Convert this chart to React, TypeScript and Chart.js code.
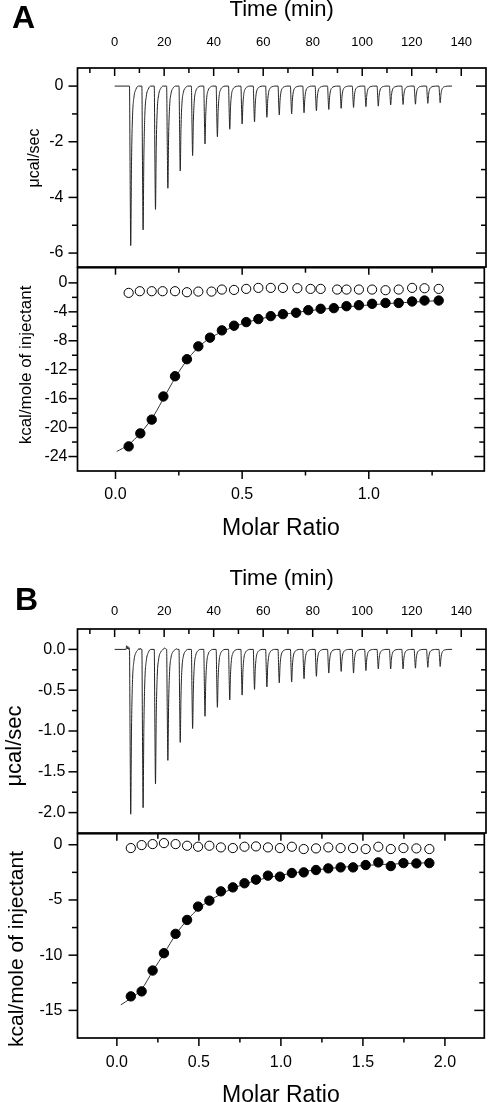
import React, { useEffect, useRef } from 'react';
import { Chart, registerables } from 'chart.js';

Chart.register(...registerables);

const FONT = '"Liberation Sans", Arial, Helvetica, sans-serif';

// ---------------- raw thermogram data (shared injection schedule, min) ----------------
const INJECTION_TIMES = [6, 11, 16, 21, 26, 31, 36, 41, 46, 51, 56, 61, 66, 71, 76, 81, 86, 91, 96, 101, 106, 111, 116, 121, 126, 131];
const BASELINE_START = 0;
const BASELINE_END = 136.3;
// one injection peak: time offset (min) and fraction of the peak depth
const PEAK_OFFSETS = [0, 0.25, 0.5, 0.8, 1.2, 1.8, 2.6, 3.6];
const PEAK_FRACTIONS = [0, 0.55, 1, 0.5, 0.2, 0.07, 0.02, 0];

// ---------------- Panel A ----------------
const A_PEAK_DEPTHS = [-5.73, -5.17, -4.43, -3.67, -3.05, -2.5, -2.08, -1.82, -1.55, -1.36, -1.29, -1.12, -1.04, -1.0, -0.96, -0.89, -0.84, -0.8, -0.77, -0.74, -0.72, -0.68, -0.66, -0.65, -0.62, -0.6];
const A_MOLAR = [0.052, 0.098, 0.143, 0.189, 0.235, 0.282, 0.327, 0.373, 0.42, 0.468, 0.516, 0.564, 0.613, 0.661, 0.713, 0.761, 0.81, 0.862, 0.912, 0.961, 1.013, 1.066, 1.118, 1.171, 1.22, 1.276];
const A_HEAT = [-22.6, -20.8, -18.9, -15.7, -12.9, -10.55, -8.77, -7.57, -6.56, -5.92, -5.42, -5.0, -4.59, -4.32, -4.13, -3.77, -3.58, -3.49, -3.22, -3.08, -2.89, -2.78, -2.78, -2.57, -2.44, -2.44];
const A_BLANK_MOLAR = [0.052, 0.096, 0.143, 0.186, 0.235, 0.282, 0.327, 0.379, 0.42, 0.468, 0.516, 0.564, 0.613, 0.661, 0.718, 0.77, 0.81, 0.875, 0.912, 0.961, 1.013, 1.066, 1.118, 1.171, 1.22, 1.276];
const A_BLANK_HEAT = [-1.38, -1.15, -1.15, -1.15, -1.15, -1.29, -1.2, -1.2, -0.92, -0.97, -0.83, -0.69, -0.69, -0.69, -0.74, -0.83, -0.83, -0.92, -0.92, -0.92, -0.92, -1.01, -0.92, -0.69, -0.74, -0.83];
const A_FIT_MOLAR = [0.005, 0.05, 0.1, 0.15, 0.2, 0.25, 0.3, 0.35, 0.4, 0.45, 0.5, 0.55, 0.6, 0.7, 0.8, 0.9, 1.0, 1.1, 1.2, 1.276];
const A_FIT_HEAT = [-23.3, -22.4, -20.7, -18.4, -15.3, -12.3, -9.9, -8.2, -7.1, -6.3, -5.65, -5.15, -4.75, -4.15, -3.7, -3.35, -3.05, -2.8, -2.6, -2.45];

// ---------------- Panel B ----------------
const B_PEAK_DEPTHS = [-2.02, -1.94, -1.65, -1.36, -1.14, -0.97, -0.82, -0.71, -0.62, -0.56, -0.49, -0.46, -0.41, -0.4, -0.36, -0.33, -0.29, -0.27, -0.29, -0.26, -0.24, -0.24, -0.24, -0.23, -0.22, -0.21];
const B_NOISE_TIME = [4.6, 4.85, 5.1, 5.35, 5.6, 5.85, 9.8, 10.1, 10.4, 10.7, 19.8, 20.3, 20.8, 24.8, 25.4];
const B_NOISE_VALUE = [0, 0.045, 0.005, 0.035, 0.0, 0.02, 0.01, -0.005, 0.015, 0, 0.01, 0.015, 0.005, 0.008, 0.0];
const B_MOLAR = [0.085, 0.151, 0.218, 0.287, 0.358, 0.428, 0.495, 0.564, 0.634, 0.707, 0.778, 0.848, 0.921, 0.994, 1.067, 1.139, 1.214, 1.289, 1.364, 1.44, 1.517, 1.594, 1.67, 1.747, 1.826, 1.905];
const B_HEAT = [-13.73, -13.28, -11.39, -9.82, -8.07, -6.81, -5.6, -5.06, -4.22, -3.86, -3.49, -3.16, -2.8, -2.89, -2.56, -2.5, -2.29, -2.14, -2.05, -2.05, -1.84, -1.6, -1.93, -1.66, -1.69, -1.66];
const B_BLANK_HEAT = [-0.3, -0.03, 0.06, 0.15, 0.06, -0.09, -0.18, -0.09, -0.24, -0.3, -0.18, -0.15, -0.24, -0.3, -0.18, -0.39, -0.33, -0.24, -0.3, -0.3, -0.39, -0.18, -0.39, -0.3, -0.33, -0.39];
const B_FIT_MOLAR = [0.024, 0.085, 0.15, 0.22, 0.29, 0.36, 0.43, 0.5, 0.6, 0.7, 0.8, 0.9, 1.0, 1.2, 1.4, 1.6, 1.8, 1.905];
const B_FIT_HEAT = [-14.5, -13.9, -13.1, -11.4, -9.8, -8.1, -6.8, -5.75, -4.75, -4.0, -3.45, -3.05, -2.75, -2.3, -2.0, -1.8, -1.68, -1.63];

// ---------------- tick values ----------------
const TIME_TICKS = [0, 20, 40, 60, 80, 100, 120, 140];
const TIME_MINOR = [-10, 10, 30, 50, 70, 90, 110, 130];
const A_TOP_Y_TICKS = [-6, -4, -2, 0];
const A_TOP_Y_MINOR = [-5, -3, -1];
const A_BOT_Y_TICKS = [-24, -20, -16, -12, -8, -4, 0];
const A_BOT_Y_MINOR = [-22, -18, -14, -10, -6, -2];
const A_X_TICKS = [0, 0.5, 1.0];
const A_X_MINOR = [0.25, 0.75, 1.25];
const B_TOP_Y_TICKS = [-2.0, -1.5, -1.0, -0.5, 0];
const B_TOP_Y_MINOR = [-1.75, -1.25, -0.75, -0.25];
const B_BOT_Y_TICKS = [-15, -10, -5, 0];
const B_BOT_Y_MINOR = [-12.5, -7.5, -2.5];
const B_X_TICKS = [0, 0.5, 1.0, 1.5, 2.0];
const B_X_MINOR = [0.25, 0.75, 1.25, 1.75];

const zip = (xs: number[], ys: number[]) => xs.map((x, i) => ({ x, y: ys[i] }));

function thermogram(depths: number[], noiseT: number[] = [], noiseV: number[] = []) {
  const pts: { x: number; y: number }[] = [{ x: BASELINE_START, y: 0 }];
  INJECTION_TIMES.forEach((t, i) => {
    PEAK_OFFSETS.forEach((o, k) => pts.push({ x: t + o, y: depths[i] * PEAK_FRACTIONS[k] }));
  });
  noiseT.forEach((t, i) => pts.push({ x: t, y: noiseV[i] }));
  pts.push({ x: BASELINE_END, y: 0 });
  return pts.sort((a, b) => a.x - b.x);
}

type XSide = { side: 'top' | 'bottom'; inward: boolean; major: number; minor: number };

type Spec = {
  canvasTop: number;
  canvasHeight: number;
  padTop: number;
  padBottom: number;
  xPosition: 'top' | 'bottom';
  xAxisHeight: number;
  xMin: number;
  xMax: number;
  xTicks: number[];
  xMinor: number[];
  xDecimals: number;
  xFontSize: number;
  xPad: number;
  xTitle: string;
  xTitleSize: number;
  xTitlePadTop: number;
  xTitlePadBottom: number;
  xSides: XSide[];
  yMin: number;
  yMax: number;
  yTicks: number[];
  yMinor: number[];
  yDecimals: number;
  yFontSize: number;
  yPad: number;
  yTitle: string;
  yTitleSize: number;
  yTitleX: number;
  yTitleY: number;
  datasets: any[];
};

const LEFT_W = 77.5;
const RIGHT_PAD = 4;

function framePlugin(s: Spec) {
  return {
    id: 'frameTicks',
    afterDraw(chart: any) {
      const { ctx, chartArea: a } = chart;
      const xs = chart.scales.x;
      const ys = chart.scales.y;
      ctx.save();
      ctx.strokeStyle = '#000';
      ctx.lineWidth = 1.7;
      ctx.strokeRect(a.left, a.top, a.right - a.left, a.bottom - a.top);
      ctx.lineWidth = 1.5;
      const seg = (x1: number, y1: number, x2: number, y2: number) => {
        ctx.beginPath();
        ctx.moveTo(x1, y1);
        ctx.lineTo(x2, y2);
        ctx.stroke();
      };
      for (const side of s.xSides) {
        const y0 = side.side === 'top' ? a.top : a.bottom;
        const sign = (side.side === 'top' ? 1 : -1) * (side.inward ? 1 : -1);
        s.xTicks.forEach((v) => {
          const p = xs.getPixelForValue(v);
          seg(p, y0, p, y0 + sign * side.major);
        });
        s.xMinor.forEach((v) => {
          const p = xs.getPixelForValue(v);
          seg(p, y0, p, y0 + sign * side.minor);
        });
      }
      // left: outward ; right: inward
      s.yTicks.forEach((v) => {
        const p = ys.getPixelForValue(v);
        seg(a.left, p, a.left - 9, p);
        seg(a.right, p, a.right - 10, p);
      });
      s.yMinor.forEach((v) => {
        const p = ys.getPixelForValue(v);
        seg(a.left, p, a.left - 5.5, p);
        seg(a.right, p, a.right - 5, p);
      });
      ctx.fillStyle = '#000';
      ctx.font = `${s.yTitleSize}px ${FONT}`;
      ctx.translate(s.yTitleX, s.yTitleY);
      ctx.rotate(-Math.PI / 2);
      ctx.textAlign = 'center';
      ctx.textBaseline = 'middle';
      ctx.fillText(s.yTitle, 0, 0);
      ctx.restore();
    },
  };
}

function buildConfig(s: Spec): any {
  return {
    type: 'scatter',
    data: { datasets: s.datasets },
    options: {
      responsive: false,
      animation: false,
      devicePixelRatio: 1,
      events: [],
      layout: { padding: { top: s.padTop, bottom: s.padBottom, left: 0, right: RIGHT_PAD } },
      plugins: { legend: { display: false }, tooltip: { enabled: false } },
      scales: {
        x: {
          type: 'linear',
          position: s.xPosition,
          min: s.xMin,
          max: s.xMax,
          grid: { display: false, drawTicks: false },
          border: { display: false },
          afterBuildTicks: (sc: any) => {
            sc.ticks = s.xTicks.map((v) => ({ value: v }));
          },
          afterFit: (sc: any) => {
            sc.height = s.xAxisHeight;
            sc.paddingLeft = 0;
            sc.paddingRight = 0;
            sc.paddingTop = 0;
            sc.paddingBottom = 0;
          },
          ticks: {
            autoSkip: false,
            maxRotation: 0,
            minRotation: 0,
            color: '#000',
            padding: s.xPad,
            font: { family: FONT, size: s.xFontSize },
            callback: (v: any) => Number(v).toFixed(s.xDecimals),
          },
          title: {
            display: true,
            text: s.xTitle,
            color: '#000',
            font: { family: FONT, size: s.xTitleSize, lineHeight: 1 },
            padding: { top: s.xTitlePadTop, bottom: s.xTitlePadBottom },
          },
        },
        y: {
          type: 'linear',
          position: 'left',
          min: s.yMin,
          max: s.yMax,
          grid: { display: false, drawTicks: false },
          border: { display: false },
          afterBuildTicks: (sc: any) => {
            sc.ticks = s.yTicks.map((v) => ({ value: v }));
          },
          afterFit: (sc: any) => {
            sc.width = LEFT_W;
            sc.paddingLeft = 0;
            sc.paddingRight = 0;
            sc.paddingTop = 0;
            sc.paddingBottom = 0;
          },
          ticks: {
            autoSkip: false,
            color: '#000',
            padding: s.yPad,
            font: { family: FONT, size: s.yFontSize },
            callback: (v: any) => Number(v).toFixed(s.yDecimals),
          },
        },
      },
    },
    plugins: [framePlugin(s)],
  };
}

function Panel({ spec }: { spec: Spec }) {
  const ref = useRef<HTMLCanvasElement | null>(null);
  useEffect(() => {
    if (!ref.current) return;
    const chart = new Chart(ref.current, buildConfig(spec));
    return () => chart.destroy();
  }, []);
  return (
    <canvas
      ref={ref}
      width={490}
      height={spec.canvasHeight}
      style={{ position: 'absolute', left: 0, top: spec.canvasTop, width: 490, height: spec.canvasHeight }}
    />
  );
}

const lineDs = (data: any[]) => ({
  data,
  showLine: true,
  borderColor: '#222',
  borderWidth: 1,
  pointRadius: 0,
  cubicInterpolationMode: 'monotone',
  fill: false,
});

const fitDs = (xs: number[], ys: number[]) => ({
  data: zip(xs, ys),
  showLine: true,
  borderColor: '#333',
  borderWidth: 1,
  pointRadius: 0,
  cubicInterpolationMode: 'monotone',
  fill: false,
  order: 3,
});

const openDs = (xs: number[], ys: number[]) => ({
  data: zip(xs, ys),
  pointRadius: 4.6,
  backgroundColor: '#fff',
  borderColor: '#000',
  borderWidth: 1,
  order: 2,
});

const filledDs = (xs: number[], ys: number[]) => ({
  data: zip(xs, ys),
  pointRadius: 4.7,
  backgroundColor: '#000',
  borderColor: '#000',
  borderWidth: 1,
  order: 1,
});

const TOP_SIDES: XSide[] = [{ side: 'top', inward: true, major: 8, minor: 5 }];
const BOT_SIDES: XSide[] = [
  { side: 'top', inward: true, major: 7, minor: 5 },
  { side: 'bottom', inward: false, major: 8, minor: 4.5 },
];

const SPEC_A_TOP: Spec = {
  canvasTop: 0, canvasHeight: 270, padTop: 0, padBottom: 3,
  xPosition: 'top', xAxisHeight: 68, xMin: -15, xMax: 150,
  xTicks: TIME_TICKS, xMinor: TIME_MINOR, xDecimals: 0, xFontSize: 13, xPad: 17.5,
  xTitle: 'Time (min)', xTitleSize: 22, xTitlePadTop: -1.5, xTitlePadBottom: 0, xSides: TOP_SIDES,
  yMin: -6.5, yMax: 0.65, yTicks: A_TOP_Y_TICKS, yMinor: A_TOP_Y_MINOR, yDecimals: 0, yFontSize: 16, yPad: 14,
  yTitle: 'μcal/sec', yTitleSize: 16, yTitleX: 35, yTitleY: 158,
  datasets: [lineDs(thermogram(A_PEAK_DEPTHS))],
};

const SPEC_A_BOT: Spec = {
  canvasTop: 262, canvasHeight: 280, padTop: 5, padBottom: 0,
  xPosition: 'bottom', xAxisHeight: 71, xMin: -0.15, xMax: 1.456,
  xTicks: A_X_TICKS, xMinor: A_X_MINOR, xDecimals: 1, xFontSize: 16, xPad: 14,
  xTitle: 'Molar Ratio', xTitleSize: 23, xTitlePadTop: 0, xTitlePadBottom: 1.5, xSides: BOT_SIDES,
  yMin: -26, yMax: 2.1, yTicks: A_BOT_Y_TICKS, yMinor: A_BOT_Y_MINOR, yDecimals: 0, yFontSize: 16, yPad: 10,
  yTitle: 'kcal/mole of injectant', yTitleSize: 17, yTitleX: 26, yTitleY: 103,
  datasets: [
    fitDs(A_FIT_MOLAR, A_FIT_HEAT),
    openDs(A_BLANK_MOLAR, A_BLANK_HEAT),
    filledDs(A_MOLAR, A_HEAT),
  ],
};

const SPEC_B_TOP: Spec = {
  canvasTop: 560, canvasHeight: 276, padTop: 0, padBottom: 3,
  xPosition: 'top', xAxisHeight: 69, xMin: -15, xMax: 150,
  xTicks: TIME_TICKS, xMinor: TIME_MINOR, xDecimals: 0, xFontSize: 13, xPad: 9.5,
  xTitle: 'Time (min)', xTitleSize: 22, xTitlePadTop: 8, xTitlePadBottom: 0, xSides: TOP_SIDES,
  yMin: -2.25, yMax: 0.25, yTicks: B_TOP_Y_TICKS, yMinor: B_TOP_Y_MINOR, yDecimals: 1, yFontSize: 16, yPad: 12,
  yTitle: 'μcal/sec', yTitleSize: 22, yTitleX: 15, yTitleY: 186,
  datasets: [lineDs(thermogram(B_PEAK_DEPTHS, B_NOISE_TIME, B_NOISE_VALUE))],
};

const SPEC_B_BOT: Spec = {
  canvasTop: 828, canvasHeight: 274, padTop: 5, padBottom: 0,
  xPosition: 'bottom', xAxisHeight: 64, xMin: -0.24, xMax: 2.24,
  xTicks: B_X_TICKS, xMinor: B_X_MINOR, xDecimals: 1, xFontSize: 16, xPad: 15,
  xTitle: 'Molar Ratio', xTitleSize: 23, xTitlePadTop: 0, xTitlePadBottom: -5, xSides: BOT_SIDES,
  yMin: -17.5, yMax: 1, yTicks: B_BOT_Y_TICKS, yMinor: B_BOT_Y_MINOR, yDecimals: 0, yFontSize: 16, yPad: 15,
  yTitle: 'kcal/mole of injectant', yTitleSize: 21, yTitleX: 17, yTitleY: 121,
  datasets: [
    fitDs(B_FIT_MOLAR, B_FIT_HEAT),
    openDs(B_MOLAR, B_BLANK_HEAT),
    filledDs(B_MOLAR, B_HEAT),
  ],
};

const letterStyle = (left: number, top: number): React.CSSProperties => ({
  position: 'absolute',
  left,
  top,
  fontFamily: FONT,
  fontWeight: 'bold',
  fontSize: 32,
  lineHeight: 1,
  color: '#000',
});

export default function App() {
  return (
    <div
      style={{
        position: 'absolute',
        left: 0,
        top: 0,
        width: 490,
        height: 1102,
        overflow: 'hidden',
        background: '#fff',
      }}
    >
      <Panel spec={SPEC_A_TOP} />
      <Panel spec={SPEC_A_BOT} />
      <Panel spec={SPEC_B_TOP} />
      <Panel spec={SPEC_B_BOT} />
      <div style={letterStyle(12, 1)}>A</div>
      <div style={letterStyle(15, 583)}>B</div>
    </div>
  );
}
